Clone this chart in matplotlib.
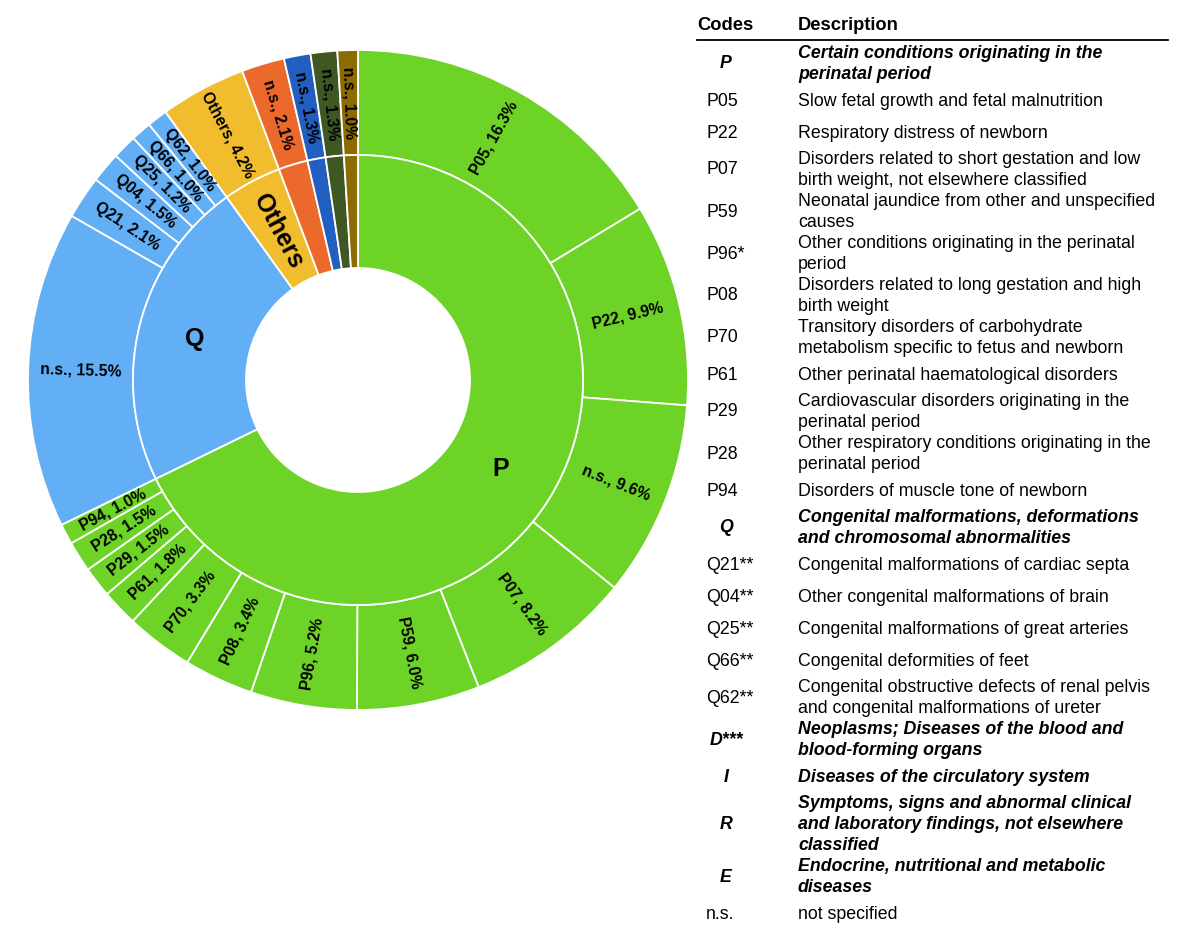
import numpy as np
import matplotlib.pyplot as plt

plt.rcParams['font.family'] = ['Liberation Sans', 'DejaVu Sans']

# inner ring: chapters
groups = ["P", "Q", "Others", "D", "I", "R", "E"]
group_values = [67.7, 22.3, 4.2, 2.1, 1.3, 1.3, 1.0]
group_labels = ["P", "Q", "Others", "", "", "", ""]
group_colors = ["#6dd326", "#62aff6", "#f1bc2e", "#ec692c", "#225fbf",
                "#3e5723", "#8c6b00"]

# outer ring: codes (parent index into groups)
codes = ["P05", "P22", "n.s.", "P07", "P59", "P96", "P08", "P70", "P61",
         "P29", "P28", "P94",
         "n.s.", "Q21", "Q04", "Q25", "Q66", "Q62",
         "Others", "n.s.", "n.s.", "n.s.", "n.s."]
code_values = [16.3, 9.9, 9.6, 8.2, 6.0, 5.2, 3.4, 3.3, 1.8, 1.5, 1.5, 1.0,
               15.5, 2.1, 1.5, 1.2, 1.0, 1.0,
               4.2, 2.1, 1.3, 1.3, 1.0]
code_parent = [0] * 12 + [1] * 6 + [2, 3, 4, 5, 6]

# table on the right
table_codes = ["P", "P05", "P22", "P07", "P59", "P96*", "P08", "P70", "P61",
               "P29", "P28", "P94", "Q", "Q21**", "Q04**", "Q25**", "Q66**",
               "Q62**", "D***", "I", "R", "E", "n.s."]
table_desc = [
    "Certain conditions originating in the\nperinatal period",
    "Slow fetal growth and fetal malnutrition",
    "Respiratory distress of newborn",
    "Disorders related to short gestation and low\nbirth weight, not elsewhere classified",
    "Neonatal jaundice from other and unspecified\ncauses",
    "Other conditions originating in the perinatal\nperiod",
    "Disorders related to long gestation and high\nbirth weight",
    "Transitory disorders of carbohydrate\nmetabolism specific to fetus and newborn",
    "Other perinatal haematological disorders",
    "Cardiovascular disorders originating in the\nperinatal period",
    "Other respiratory conditions originating in the\nperinatal period",
    "Disorders of muscle tone of newborn",
    "Congenital malformations, deformations\nand chromosomal abnormalities",
    "Congenital malformations of cardiac septa",
    "Other congenital malformations of brain",
    "Congenital malformations of great arteries",
    "Congenital deformities of feet",
    "Congenital obstructive defects of renal pelvis\nand congenital malformations of ureter",
    "Neoplasms; Diseases of the blood and\nblood-forming organs",
    "Diseases of the circulatory system",
    "Symptoms, signs and abnormal clinical\nand laboratory findings, not elsewhere\nclassified",
    "Endocrine, nutritional and metabolic\ndiseases",
    "not specified",
]
table_is_group = [True] + [False] * 11 + [True] + [False] * 5 + [True] * 4 + [False]

W, H = 1200, 938
fig = plt.figure(figsize=(W / 100, H / 100), dpi=100)

cx, cy, half = 358, 380, 340
ax = fig.add_axes([(cx - half) / W, (H - cy - half) / H, 2 * half / W, 2 * half / H])

r_out, r_mid, r_in = 330, 225, 112
outer_colors = [group_colors[p] for p in code_parent]
wedge_kw = dict(edgecolor="white", linewidth=1.3)
ax.pie(code_values, radius=r_out, colors=outer_colors, startangle=90,
       counterclock=False, wedgeprops=dict(width=r_out - r_mid, **wedge_kw))
ax.pie(group_values, radius=r_mid, colors=group_colors, startangle=90,
       counterclock=False, wedgeprops=dict(width=r_mid - r_in, **wedge_kw))
ax.set_xlim(-half, half)
ax.set_ylim(-half, half)
ax.set_aspect("equal")
ax.axis("off")


def radial_angle(start, value, total):
    mid = (start + value / 2) / total * 360
    return 90 - mid


def readable(a):
    a = (a + 180) % 360 - 180
    if a > 90:
        a -= 180
    elif a < -90:
        a += 180
    return a


total = sum(code_values)
start = 0
r_lab = (r_out + r_mid) / 2
for code, v in zip(codes, code_values):
    a = radial_angle(start, v, total)
    x, y = r_lab * np.cos(np.deg2rad(a)), r_lab * np.sin(np.deg2rad(a))
    ax.text(x, y, f"{code}, {v:.1f}%", rotation=readable(a),
            rotation_mode="anchor", ha="center", va="center",
            fontsize=11.3, fontweight="bold")
    start += v

start = 0
r_lab = (r_mid + r_in) / 2
for lab, v in zip(group_labels, group_values):
    a = radial_angle(start, v, total)
    x, y = r_lab * np.cos(np.deg2rad(a)), r_lab * np.sin(np.deg2rad(a))
    rot = readable(a) if lab == "Others" else 0
    if lab:
        ax.text(x, y, lab, rotation=rot, rotation_mode="anchor",
                ha="center", va="center", fontsize=18, fontweight="bold")
    start += v

# table
def fx(px):
    return px / W


def fy(py):
    return 1 - py / H


fig.text(fx(697), fy(25), "Codes", ha="left", va="center",
         fontsize=13.2, fontweight="bold")
fig.text(fx(798), fy(25), "Description", ha="left", va="center",
         fontsize=13.2, fontweight="bold")
fig.add_artist(plt.Line2D([fx(697), fx(1168)], [fy(40), fy(40)],
                          color="black", linewidth=1.3))

top = 43
line_h = 21
for code, desc, grp in zip(table_codes, table_desc, table_is_group):
    lines = desc.split("\n")
    row_h = max(32, line_h * len(lines))
    mid = top + row_h / 2
    style = dict(fontsize=12.8, va="center")
    if grp:
        style.update(fontweight="bold", fontstyle="italic")
        fig.text(fx(726), fy(mid), code, ha="center", **style)
    else:
        fig.text(fx(706), fy(mid), code, ha="left", **style)
    y0 = mid - (len(lines) - 1) * line_h / 2
    for i, ln in enumerate(lines):
        fig.text(fx(798), fy(y0 + i * line_h), ln, ha="left", **style)
    top += row_h

fig.savefig("out.png", dpi=100)
